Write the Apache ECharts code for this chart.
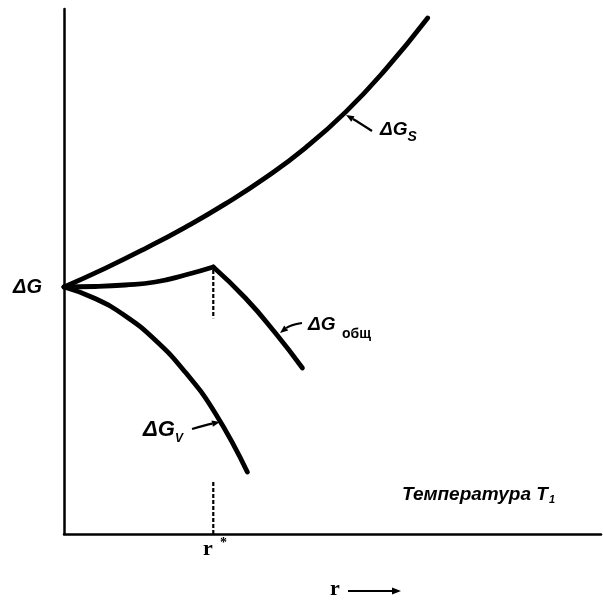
<!DOCTYPE html>
<html><head><meta charset="utf-8">
<script src="https://cdn.jsdelivr.net/npm/echarts@6/dist/echarts.min.js"></script>
<style>html,body{margin:0;padding:0;background:#fff}#chart{width:603px;height:601px}</style>
</head><body><div id="chart"></div>
<script>
// Radius r and free energy ΔG, arbitrary units (origin of ΔG axis at the bottom)
// Surface term ΔG_S
const rSurf = [0, 7.65, 15.11, 22.57, 30.04, 37.50, 44.96, 52.43, 59.89, 67.72];
const gSurf = [47.05, 50.59, 54.36, 58.42, 62.88, 67.85, 73.56, 80.36, 88.50, 98.29];
// Total ΔG_общ (maximum at r*)
const rTot = [0, 5.78, 11.38, 16.98, 22.57, 27.8, 33.77, 39.37, 44.40];
const gTot = [47.05, 47.14, 47.43, 48.0, 49.33, 50.86, 44.95, 38.29, 31.62];
// Volume term ΔG_V
const rVol = [0, 5.78, 11.38, 16.98, 22.57, 28.17, 34.14];
const gVol = [47.05, 44.86, 41.56, 36.95, 30.84, 23.01, 11.81];
// Critical radius r* and the two dashed guide segments (ΔG ranges)
const rStar = 27.8;
const guideUpper = [50.3, 41.1];
const guideLower = [9.9, 0];

const pairs = (xs, ys) => xs.map((x, i) => [x, ys[i]]);
const peak = gTot.indexOf(Math.max(...gTot));
const totRise = pairs(rTot.slice(0, peak + 1), gTot.slice(0, peak + 1));
const totFall = pairs(rTot.slice(peak), gTot.slice(peak));

const chart = echarts.init(document.getElementById('chart'), null, {renderer: 'canvas'});

const curve = (data) => ({
  type: 'line', data, smooth: 0.5, symbol: 'none', silent: true,
  lineStyle: {color: '#000', width: 4.8, cap: 'round', join: 'round'}
});
const guide = (a, b) => ({
  type: 'line', data: [[rStar, a], [rStar, b]], symbol: 'none', silent: true,
  lineStyle: {color: '#000', width: 2.2, type: [4, 2]}
});

// Small pointer: quadratic curve ending in a filled arrowhead
function pointer(x0, y0, cx, cy, x1, y1) {
  const dx = x1 - cx, dy = y1 - cy, L = Math.hypot(dx, dy);
  const ux = dx / L, uy = dy / L, len = 8, hw = 3.2;
  const bx = x1 - ux * len, by = y1 - uy * len;
  return [
    {type: 'bezierCurve', shape: {x1: x0, y1: y0, cpx1: cx, cpy1: cy, x2: bx, y2: by},
     style: {stroke: '#000', lineWidth: 2.2, fill: null}},
    {type: 'polygon', shape: {points: [[x1, y1], [bx - uy * hw, by + ux * hw], [bx + uy * hw, by - ux * hw]]},
     style: {fill: '#000'}}
  ];
}
const measureCtx = document.createElement('canvas').getContext('2d');
const widthOf = (text, font) => { measureCtx.font = font; return measureCtx.measureText(text).width; };
const txt = (text, x, y, font) => ({
  type: 'text', x, y,
  style: {text, font, fill: '#000', textAlign: 'left', textVerticalAlign: 'middle'}
});
// Main text followed by a lowered subscript
function subbed(main, sub, x, y, font, subFont, gap, drop) {
  return [txt(main, x, y, font), txt(sub, x + widthOf(main, font) + gap, y + drop, subFont)];
}
const SANS = '"Liberation Sans", sans-serif';
const SERIF = '"Liberation Serif", serif';

chart.setOption({
  animation: false,
  backgroundColor: '#fff',
  grid: {left: 64, right: 2, top: 9, bottom: 67},
  xAxis: {type: 'value', min: 0, max: 100, axisLine: {onZero: false, lineStyle: {color: '#000', width: 2.5}},
          axisTick: {show: false}, axisLabel: {show: false}, splitLine: {show: false}},
  yAxis: {type: 'value', min: 0, max: 100, axisLine: {show: true, onZero: false, lineStyle: {color: '#000', width: 2.5}},
          axisTick: {show: false}, axisLabel: {show: false}, splitLine: {show: false}},
  series: [
    curve(pairs(rSurf, gSurf)),
    curve(totRise),
    curve(totFall),
    curve(pairs(rVol, gVol)),
    guide(guideUpper[0], guideUpper[1]),
    guide(guideLower[0], guideLower[1])
  ],
  graphic: [
    txt('ΔG', 13, 287, 'italic bold 20px ' + SANS),
    ...subbed('ΔG', 'S', 380, 130, 'italic bold 19px ' + SANS, 'italic bold 14px ' + SANS, 0, 7),
    ...pointer(372, 131, 358, 122, 346, 115),
    txt('ΔG', 308, 325, 'italic bold 19px ' + SANS),
    txt('общ', 342, 334, 'bold 14px ' + SANS),
    ...pointer(302, 323, 290, 325, 280, 333),
    ...subbed('ΔG', 'V', 143, 430, 'italic bold 22px ' + SANS, 'italic bold 12px ' + SANS, 0, 9),
    ...pointer(192, 429, 206, 425, 220, 422),
    ...subbed('Температура T', '1', 402, 495, 'italic bold 19px ' + SANS, 'italic bold 11px ' + SANS, 1, 5),
    txt('r', 203, 549, 'bold 22px ' + SERIF),
    txt('*', 220, 543, 'bold 14px ' + SERIF),
    txt('r', 330, 589, 'bold 22px ' + SERIF),
    {type: 'line', shape: {x1: 348, y1: 591, x2: 394, y2: 591}, style: {stroke: '#000', lineWidth: 2}},
    {type: 'polygon', shape: {points: [[401, 591], [392, 587.5], [392, 594.5]]}, style: {fill: '#000'}}
  ]
});
</script>
</body></html>
